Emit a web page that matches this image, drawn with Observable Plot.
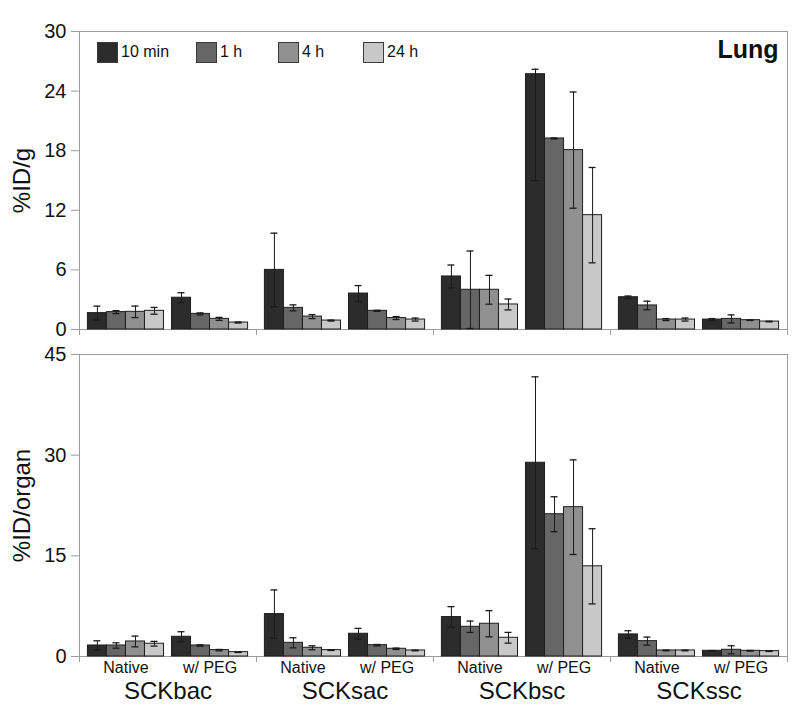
<!DOCTYPE html>
<html>
<head>
<meta charset="utf-8">
<script src="https://cdn.jsdelivr.net/npm/d3@7"></script>
<script src="https://cdn.jsdelivr.net/npm/@observablehq/plot@0.6"></script>
<style>
  body { margin: 0; background: #fff; font-family: "Liberation Sans", Arial, sans-serif; }
  #chart { position: relative; width: 798px; height: 708px; background: #fff; }
  #chart svg { position: absolute; left: 0; }
  .legend { position: absolute; top: 41px; height: 22px; display: flex; align-items: center; font-size: 16px; color: #111; }
  .legend .sw { width: 21px; height: 21px; box-sizing: border-box; border: 1px solid #3a3a3a; margin-right: 3px; }
</style>
</head>
<body>
<div id="chart"></div>
<script>
// ---------- data ----------
const groups = ["SCKbac", "SCKsac", "SCKbsc", "SCKssc"];
const formulations = ["Native", "w/ PEG"];
const times = ["10 min", "1 h", "4 h", "24 h"];
const timeColors = ["#2c2c2c", "#666666", "#909090", "#c8c8c8"];

// order: group -> formulation -> time
// Lung, %ID/g
const perGram = [
  1.65, 1.75, 1.78, 1.88,   3.20, 1.57, 1.07, 0.70,
  6.00, 2.18, 1.30, 0.90,   3.62, 1.88, 1.15, 1.00,
  5.34, 4.00, 4.00, 2.52,   25.7, 19.23, 18.06, 11.51,
  3.25, 2.42, 1.00, 1.00,   1.00, 1.07, 0.94, 0.80
];
const perGramErrDown = [
  0.70, 0.15, 0.58, 0.34,   0.50, 0.10, 0.15, 0.05,
  3.70, 0.30, 0.20, 0.05,   0.80, 0.05, 0.15, 0.15,
  1.15, 3.90, 1.45, 0.55,   10.7, 0.05, 5.85, 4.80,
  0.12, 0.43, 0.10, 0.15,   0.10, 0.40, 0.03, 0.03
];
const perGramErrUp = [
  0.70, 0.15, 0.58, 0.34,   0.50, 0.10, 0.15, 0.05,
  3.70, 0.30, 0.20, 0.05,   0.80, 0.05, 0.15, 0.15,
  1.15, 3.90, 1.45, 0.55,   0.50, 0.05, 5.85, 4.80,
  0.12, 0.43, 0.10, 0.15,   0.10, 0.40, 0.03, 0.03
];
// Lung, %ID/organ
const perOrgan = [
  1.64, 1.64, 2.24, 1.90,   2.94, 1.64, 0.95, 0.65,
  6.32, 2.04, 1.30, 0.95,   3.39, 1.69, 1.15, 0.90,
  5.88, 4.43, 4.88, 2.79,   28.87, 21.20, 22.25, 13.44,
  3.29, 2.29, 0.90, 0.90,   0.85, 1.00, 0.85, 0.80
];
const perOrganErr = [
  0.70, 0.40, 0.80, 0.35,   0.75, 0.10, 0.10, 0.05,
  3.60, 0.75, 0.30, 0.05,   0.80, 0.10, 0.10, 0.05,
  1.55, 0.85, 1.95, 0.80,   12.8, 2.60, 7.05, 5.60,
  0.55, 0.60, 0.05, 0.05,   0.03, 0.60, 0.05, 0.05
];
const gramTicks = [0, 6, 12, 18, 24, 30];
const organTicks = [0, 15, 30, 45];

// ---------- layout ----------
const W = 798, ML = 79, MR = 11;
const facetW = (W - ML - MR) / groups.length;
const padIn = 0.095, padOut = 0.1;
const step = facetW / (formulations.length - padIn + 2 * padOut);
const bw = step * (1 - padIn);
const cw = bw / times.length;
const capW = 7;
const FONT = '"Liberation Sans", Arial, sans-serif';

function buildRows(vals, down, up) {
  const rows = [];
  groups.forEach((g, gi) => formulations.forEach((f, fi) => times.forEach((t, ti) => {
    const k = gi * 8 + fi * 4 + ti;
    rows.push({group: g, form: f, time: t, ti, value: vals[k], lo: vals[k] - down[k], hi: vals[k] + up[k]});
  })));
  return rows;
}

function panel({rows, yMax, ticks, yLabel, height, mt, mb, bottom, title}) {
  const plotH = height - mt - mb;
  const tickLen = 6 * yMax / plotH;
  const edge = bw / 2 + padOut * step;
  const marks = [];
  marks.push(Plot.frame({stroke: "#9c9c9c", facet: "super"}));
  times.forEach((t, i) => {
    const d = rows.filter(r => r.ti === i);
    marks.push(Plot.barY(d, {
      fx: "group", x: "form", y1: 0, y2: "value",
      fill: timeColors[i], stroke: "#1e1e1e", strokeWidth: 1,
      insetLeft: i * cw, insetRight: (times.length - 1 - i) * cw
    }));
  });
  times.forEach((t, i) => {
    const d = rows.filter(r => r.ti === i);
    const dx = (i - (times.length - 1) / 2) * cw;
    const il = i * cw + (cw - capW) / 2, ir = (times.length - 1 - i) * cw + (cw - capW) / 2;
    marks.push(Plot.ruleX(d, {fx: "group", x: "form", y1: "lo", y2: "hi", dx, stroke: "#1a1a1a", strokeWidth: 1}));
    marks.push(Plot.tickY(d, {fx: "group", x: "form", y: "hi", insetLeft: il, insetRight: ir, stroke: "#1a1a1a", strokeWidth: 1.3}));
    marks.push(Plot.tickY(d, {fx: "group", x: "form", y: "lo", insetLeft: il, insetRight: ir, stroke: "#1a1a1a", strokeWidth: 1.3}));
  });
  // group separator ticks below the baseline
  marks.push(Plot.ruleX(groups, {fx: d => d, x: () => formulations[formulations.length - 1],
    dx: edge, y1: 0, y2: -tickLen, stroke: "#9c9c9c"}));
  marks.push(Plot.ruleX([groups[0]], {fx: d => d, x: () => formulations[0],
    dx: -edge, y1: 0, y2: -tickLen, stroke: "#9c9c9c"}));
  marks.push(Plot.axisY({ticks, tickSize: 8, tickPadding: 5, fontSize: 20, label: null,
    stroke: "#9c9c9c", fill: "#111", tickFormat: d => String(d)}));
  marks.push(Plot.text([yLabel], {fx: () => groups[0], frameAnchor: "left", textAnchor: "middle",
    rotate: -90, dx: -57, fontSize: 24, fill: "#111"}));
  if (title) {
    marks.push(Plot.text([title], {fx: () => groups[groups.length - 1], frameAnchor: "top-right",
      dx: -9, dy: 9, fontSize: 25, fontWeight: "bold", fill: "#111"}));
  }
  if (bottom) {
    marks.push(Plot.axisX({tickSize: 0, tickPadding: 5, fontSize: 16, label: null, fill: "#111"}));
    marks.push(Plot.axisFx({anchor: "bottom", tickSize: 0, tickPadding: 25, fontSize: 24, label: null, fill: "#111"}));
  }
  return Plot.plot({
    width: W, height, marginLeft: ML, marginRight: MR, marginTop: mt, marginBottom: mb,
    style: {fontFamily: FONT, background: "transparent", color: "#111", overflow: "visible"},
    fx: {domain: groups, padding: 0, round: false, ...(bottom ? {} : {axis: null})},
    x: {domain: formulations, paddingInner: padIn, paddingOuter: padOut, round: false, ...(bottom ? {} : {axis: null})},
    y: {domain: [0, yMax]},
    marks
  });
}

const chart = document.getElementById("chart");
const topPanel = panel({rows: buildRows(perGram, perGramErrDown, perGramErrUp), yMax: 30, ticks: gramTicks,
  yLabel: "%ID/g", height: 336, mt: 31, mb: 7, bottom: false, title: "Lung"});
topPanel.style.top = "0px";
chart.appendChild(topPanel);
const bottomPanel = panel({rows: buildRows(perOrgan, perOrganErr, perOrganErr), yMax: 45, ticks: organTicks,
  yLabel: "%ID/organ", height: 372, mt: 18, mb: 52, bottom: true});
bottomPanel.style.top = "336px";
chart.appendChild(bottomPanel);

// legend (inside top panel)
const legendLeft = [97, 196, 278, 363];
times.forEach((t, i) => {
  const item = document.createElement("div");
  item.className = "legend";
  item.style.left = legendLeft[i] + "px";
  const sw = document.createElement("span");
  sw.className = "sw";
  sw.style.background = timeColors[i];
  const lab = document.createElement("span");
  lab.textContent = t;
  item.appendChild(sw);
  item.appendChild(lab);
  chart.appendChild(item);
});
</script>
</body>
</html>
